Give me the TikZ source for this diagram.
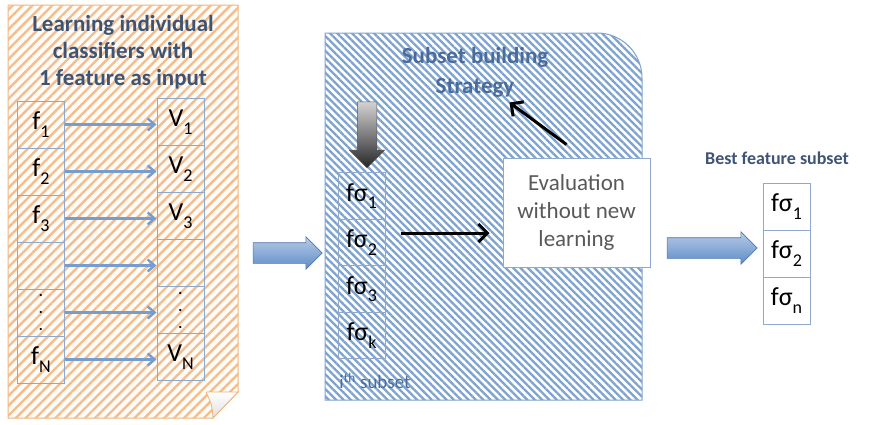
\documentclass[tikz,border=0pt]{standalone}
\usepackage{fontspec}
\setmainfont{Carlito}
\usetikzlibrary{positioning,patterns.meta,arrows.meta,shapes.arrows}
\definecolor{titleblue}{HTML}{3E5475}
\definecolor{stratblue}{HTML}{4A6C9C}
\definecolor{cellblue}{HTML}{8EA9CF}
\definecolor{hatchblue}{HTML}{7FA3CF}
\definecolor{hatchorange}{HTML}{F2BE90}
\definecolor{paperorange}{HTML}{F0B47A}
\definecolor{arrowblue}{HTML}{5E8CC8}
\definecolor{evalgray}{HTML}{595959}
\newcommand{\lo}[1]{\raisebox{-0.6ex}{\fontsize{18}{18}\selectfont #1}}
\begin{document}
\begin{tikzpicture}[x=1pt,y=-1pt,node distance=47pt,
  cell/.style={draw=cellblue,line width=1pt,minimum width=47pt,minimum height=47pt,inner sep=0pt,font=\fontsize{26}{26}\selectfont},
  dotcell/.style={cell,align=center,font=\fontsize{15}{17}\selectfont\bfseries},
  thinarrow/.style={-{Straight Barb[length=7pt,width=12pt]},arrowblue!85,line width=2.4pt},
  blackarrow/.style={-{Straight Barb[length=9pt,width=18pt]},black,line width=3pt},
  fatarrow/.style={single arrow,draw=arrowblue!85!black,line width=0.6pt,top color=arrowblue!45!white,bottom color=arrowblue,single arrow head extend=6pt,inner xsep=0pt,inner ysep=10pt},
  heading/.style={font=\fontsize{23}{27}\selectfont\bfseries,align=center}]
\useasboundingbox (0,0) rectangle (892,424);
% left sheet
\draw[draw=paperorange,line width=1pt,fill=orange!3,postaction={pattern={Lines[angle=45,distance=7pt,line width=2.4pt]},pattern color=hatchorange}]
  (8,5) -- (238,5) -- (238,392) -- (213,418) -- (8,418) -- cycle;
\draw[draw=paperorange,line width=0.8pt,top color=white,bottom color=gray!25]
  (206,392) -- (238,392) -- (213,418) .. controls (212,405) .. (206,392);
\node[heading,text=titleblue](LEARN) at (123,52){Learning individual\\classifiers with\\1 feature as input};
\node[cell](F1) at (41,124.5){f\lo{1}};
\node[cell,below of = F1](F2){f\lo{2}};
\node[cell,below of = F2](F3){f\lo{3}};
\node[cell,below of = F3](F4){};
\node[dotcell,below of = F4](F5){.\\.\\.};
\node[cell,below of = F5](FN){f\lo{N}};
\node[cell](V1) at (180.5,122){V\lo{1}};
\node[cell,below of = V1](V2){V\lo{2}};
\node[cell,below of = V2](V3){V\lo{3}};
\node[cell,below of = V3](V4){};
\node[dotcell,below of = V4](V5){.\\.\\.};
\node[cell,below of = V5](VN){V\lo{N}};
\foreach \r in {1,2,3,4,5,N}
  \draw[thinarrow](F\r.east) -- (F\r.east -| V\r.west);
% middle block
\draw[draw=hatchblue,line width=1pt,fill=white,postaction={pattern={Lines[angle=-45,distance=5.2pt,line width=2.3pt]},pattern color=hatchblue}]
  (325,400) -- (325,33) [rounded corners=45pt]-- (642,33) [sharp corners]-- (642,400) -- cycle;
\node[heading,text=stratblue,font=\fontsize{23}{30}\selectfont\bfseries](STRAT) at (475,72){Subset building\\Strategy};
\node[cell,minimum height=46.5pt](FS1) at (361.5,196){fσ\lo{1}};
\node[cell,minimum height=46.5pt,below of = FS1,node distance=46.5pt](FS2){fσ\lo{2}};
\node[cell,minimum height=46.5pt,below of = FS2,node distance=46.5pt](FS3){fσ\lo{3}};
\node[cell,minimum height=46.5pt,below of = FS3,node distance=46.5pt](FSK){fσ\lo{k}};
\node[single arrow,shape border rotate=270,minimum height=66pt,single arrow head extend=8pt,inner xsep=9.5pt,inner ysep=0pt,draw=gray!70!black,line width=0.5pt,top color=gray!35,bottom color=black!85](DOWN) at (367,130){};
\node[font=\fontsize{19}{19}\selectfont,text=stratblue](ITH) at (375,381){i\textsuperscript{th} subset};
\node[draw=cellblue,line width=1pt,fill=white,minimum width=147pt,minimum height=109pt,align=center,text=evalgray,font=\fontsize{23}{28}\selectfont](EVAL) at (576.5,212.5){Evaluation\\without new\\learning};
\draw[blackarrow]([xshift=15pt,yshift=9.5pt]FS2.east) -- ([xshift=-13pt,yshift=9.5pt]FS2.east -| EVAL.west);
\draw[blackarrow]([xshift=-10pt,yshift=13pt]EVAL.north) -- ++(-57,-42);
% right
\node[heading,text=titleblue,font=\fontsize{18}{18}\selectfont\bfseries](BEST) at (777,158){Best feature subset};
\node[cell](B1) at (786.5,206.5){fσ\lo{1}};
\node[cell,below of = B1](B2){fσ\lo{2}};
\node[cell,below of = B2](BN){fσ\lo{n}};
% big arrows
\node[fatarrow,minimum height=69pt](ARRL) at (282.5,253){};
\node[fatarrow,minimum height=90pt](ARRR) at (707,248){};
\end{tikzpicture}
\end{document}
